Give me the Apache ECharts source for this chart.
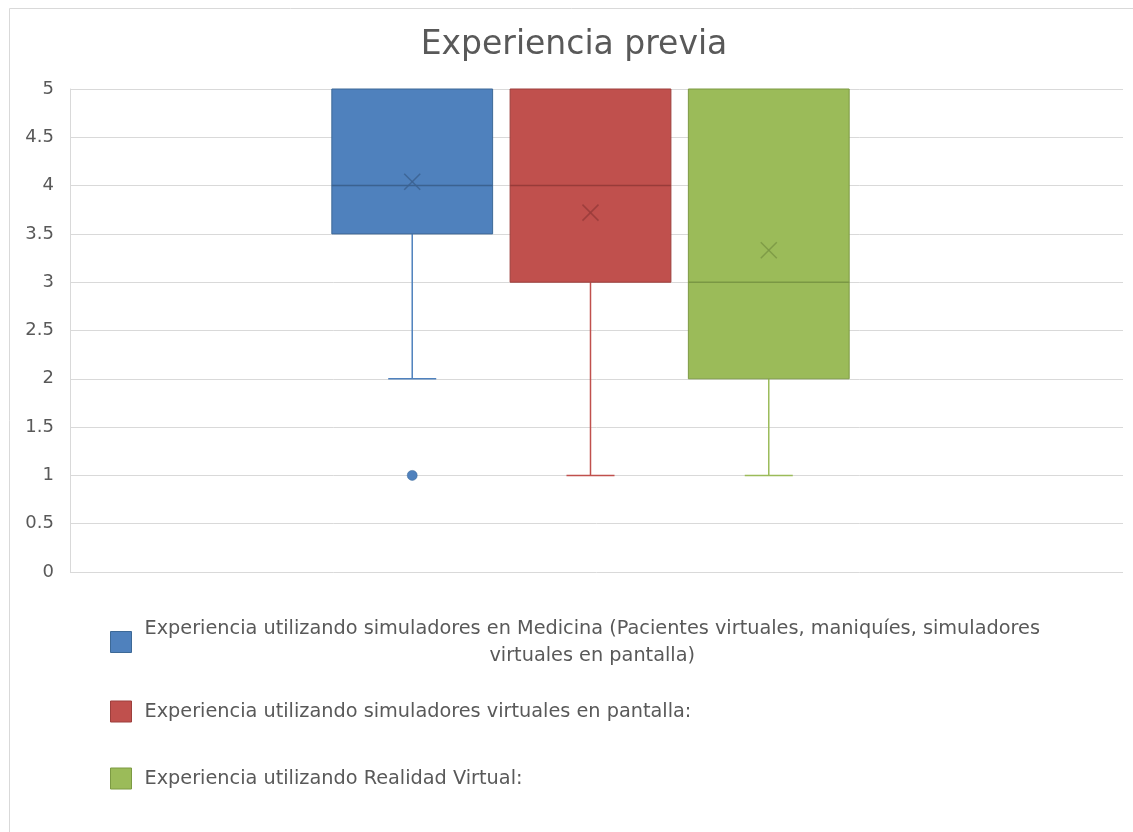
<!DOCTYPE html>
<html>
<head>
<meta charset="utf-8">
<title>Experiencia previa</title>
<script src="https://cdn.jsdelivr.net/npm/echarts@6/dist/echarts.min.js"></script>
<style>
  html, body { margin: 0; padding: 0; background: #ffffff; }
  #chart { width: 1133px; height: 832px; }
</style>
</head>
<body>
<div id="chart"></div>
<script>
// Box-and-whisker summary of three survey items (scale 1-5)
const chartTitle = 'Experiencia previa';
const xCategories = [''];
const seriesNames = [
  'Experiencia utilizando simuladores en Medicina (Pacientes virtuales, maniquíes, simuladores virtuales en pantalla)',
  'Experiencia utilizando simuladores virtuales en pantalla:',
  'Experiencia utilizando Realidad Virtual:'
];
const lowerWhisker = [2, 1, 1];
const quartile1 = [3.5, 3, 2];
const medians = [4, 4, 3];
const quartile3 = [5, 5, 5];
const upperWhisker = [5, 5, 5];
const means = [4.04, 3.72, 3.33];
const outliers = [[1], [], []];
const yTicks = [0, 0.5, 1, 1.5, 2, 2.5, 3, 3.5, 4, 4.5, 5];

// Colours: fill, border, median / mean marker, whisker
const palette = [
  { fill: '#4f81bd', border: '#3d6997', dark: '#3b6290', whisker: '#4f81bd' },
  { fill: '#c0504d', border: '#9d3f3c', dark: '#983b39', whisker: '#c0504d' },
  { fill: '#9bbb59', border: '#7c9a43', dark: '#7a9744', whisker: '#9bbb59' }
];

// Horizontal layout of the clustered boxes, as fractions of the category band
const GROUP_STEP = 0.1693;
const GROUP_SHIFT = -0.0057;
const BOX_WIDTH = 0.1527;
const CAP_WIDTH = 0.0456;
const MEAN_HALF = 8;
const OUTLIER_R = 5;

const textGrey = '#595959';
const gridGrey = '#d9d9d9';

function makeRenderer(idx) {
  const col = palette[idx];
  const nOut = outliers[idx].length;
  return function (params, api) {
    const cat = api.value(0);
    const band = api.size([1, 0])[0];
    const cx = api.coord([cat, 0])[0] + band * ((idx - 1) * GROUP_STEP + GROUP_SHIFT);
    const halfW = band * BOX_WIDTH / 2;
    const halfCap = band * CAP_WIDTH / 2;
    const yOf = (d) => api.coord([cat, api.value(d)])[1];
    const yLow = yOf(1), yQ1 = yOf(2), yMed = yOf(3), yQ3 = yOf(4), yUp = yOf(5), yMean = yOf(6);
    const children = [];
    const wStyle = { stroke: col.whisker, lineWidth: 1.5 };
    if (Math.abs(yLow - yQ1) > 0.5) {
      children.push({ type: 'line', shape: { x1: cx, y1: yQ1, x2: cx, y2: yLow }, style: wStyle });
      children.push({ type: 'line', shape: { x1: cx - halfCap, y1: yLow, x2: cx + halfCap, y2: yLow }, style: wStyle });
    }
    if (Math.abs(yUp - yQ3) > 0.5) {
      children.push({ type: 'line', shape: { x1: cx, y1: yQ3, x2: cx, y2: yUp }, style: wStyle });
      children.push({ type: 'line', shape: { x1: cx - halfCap, y1: yUp, x2: cx + halfCap, y2: yUp }, style: wStyle });
    }
    children.push({
      type: 'rect',
      shape: { x: cx - halfW, y: yQ3, width: halfW * 2, height: yQ1 - yQ3 },
      style: { fill: col.fill, stroke: col.border, lineWidth: 1 }
    });
    children.push({
      type: 'line',
      shape: { x1: cx - halfW, y1: yMed, x2: cx + halfW, y2: yMed },
      style: { stroke: col.dark, lineWidth: 1.5 }
    });
    const mStyle = { stroke: col.dark, lineWidth: 1.5, opacity: 0.85 };
    children.push({ type: 'line', shape: { x1: cx - MEAN_HALF, y1: yMean - MEAN_HALF, x2: cx + MEAN_HALF, y2: yMean + MEAN_HALF }, style: mStyle });
    children.push({ type: 'line', shape: { x1: cx - MEAN_HALF, y1: yMean + MEAN_HALF, x2: cx + MEAN_HALF, y2: yMean - MEAN_HALF }, style: mStyle });
    for (let k = 0; k < nOut; k++) {
      const yo = yOf(7 + k);
      children.push({ type: 'circle', shape: { cx: cx, cy: yo, r: OUTLIER_R }, style: { fill: col.fill, stroke: col.border, lineWidth: 0.5 } });
    }
    return { type: 'group', children: children };
  };
}

const series = seriesNames.map((name, i) => {
  const row = [0, lowerWhisker[i], quartile1[i], medians[i], quartile3[i], upperWhisker[i], means[i]].concat(outliers[i]);
  const yDims = row.map((_, d) => d).slice(1);
  return {
    type: 'custom',
    name: name,
    renderItem: makeRenderer(i),
    itemStyle: { color: palette[i].fill },
    encode: { x: 0, y: yDims },
    data: [row],
    silent: true
  };
});

const legendStyleBase = {
  color: textGrey,
  fontFamily: 'DejaVu Sans',
  fontSize: 19.3,
  lineHeight: 27
};

function splitLegend(name) {
  const cut = name.lastIndexOf(' virtuales');
  return [name.slice(0, cut), name.slice(cut + 1)];
}

const legendTops = [615, 698, 765];
const legends = seriesNames.map((name, i) => {
  const lg = {
    left: 110,
    top: legendTops[i],
    padding: 0,
    orient: 'vertical',
    selectedMode: false,
    itemWidth: 21,
    itemHeight: 21,
    data: [{
      name: name,
      icon: 'rect',
      itemStyle: { color: palette[i].fill, borderColor: palette[i].border, borderWidth: 1 }
    }],
    textStyle: Object.assign({ padding: [0, 0, 0, 8] }, legendStyleBase)
  };
  if (i === 0) {
    lg.formatter = function (n) {
      const parts = splitLegend(n);
      return '{a|' + parts[0] + '}\n{b|' + parts[1] + '}';
    };
    lg.textStyle.rich = {
      a: Object.assign({}, legendStyleBase),
      b: Object.assign({ align: 'center' }, legendStyleBase)
    };
  }
  return lg;
});

const chart = echarts.init(document.getElementById('chart'), null, { renderer: 'canvas' });
chart.setOption({
  backgroundColor: '#ffffff',
  animation: false,
  title: {
    text: chartTitle,
    left: 569,
    top: 24,
    textAlign: 'center',
    textStyle: {
      color: textGrey,
      fontFamily: 'DejaVu Sans',
      fontWeight: 'normal',
      fontSize: 33
    }
  },
  graphic: [{
    type: 'rect',
    silent: true,
    shape: { x: 9.5, y: 8.5, width: 1200, height: 900 },
    style: { fill: 'none', stroke: gridGrey, lineWidth: 1 }
  }],
  legend: legends,
  grid: { left: 70, right: 10, top: 89, bottom: 260, containLabel: false },
  xAxis: {
    type: 'category',
    data: xCategories,
    boundaryGap: true,
    axisLine: { show: false },
    axisTick: { show: false },
    axisLabel: { show: false },
    splitLine: { show: false }
  },
  yAxis: {
    type: 'value',
    min: yTicks[0],
    max: yTicks[yTicks.length - 1],
    interval: yTicks[1] - yTicks[0],
    axisLine: { show: true, lineStyle: { color: gridGrey, width: 1 } },
    axisTick: { show: false },
    axisLabel: {
      color: textGrey,
      fontFamily: 'DejaVu Sans',
      fontSize: 18,
      margin: 16
    },
    splitLine: { show: true, lineStyle: { color: gridGrey, width: 1 } }
  },
  series: series
});
</script>
</body>
</html>
